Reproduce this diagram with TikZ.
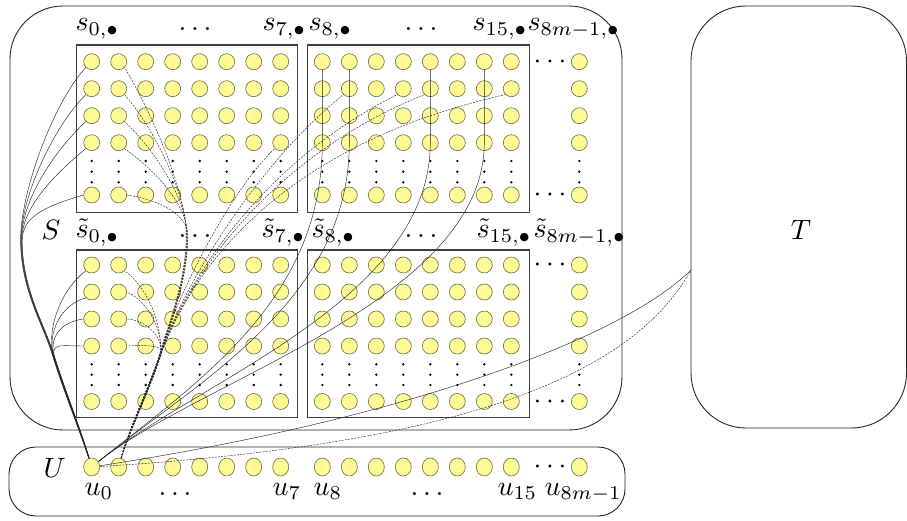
\documentclass[tikz,border=0pt]{standalone}
\usetikzlibrary{shapes.geometric}
\definecolor{cfill}{RGB}{255,250,150}
\definecolor{cdraw}{RGB}{110,105,60}
\begin{document}
\begin{tikzpicture}[x=1pt,y=-1pt,
  dotn/.style={circle,minimum size=16pt,inner sep=0pt,fill=cfill,draw=cdraw,line width=0.6pt},
  unode/.style={ellipse,minimum width=16pt,minimum height=18pt,inner sep=0pt,fill=cfill,draw=cdraw,line width=0.6pt},
  lab/.style={scale=2.8,inner sep=0pt},
  blk/.style={draw=black!75,line width=1.1pt},
  bigbox/.style={draw=black!85,line width=0.9pt},
  sl/.style={draw=black!85,line width=0.45pt},
  dl/.style={sl,dash pattern=on 2pt off 1.2pt},
]
\useasboundingbox (0,0) rectangle (907,521);

% outer boxes
\draw[bigbox,rounded corners=53pt] (10,6) rectangle (622,430);
\draw[bigbox,rounded corners=55pt] (691,6) rectangle (906.5,428);
\draw[bigbox,rounded corners=27pt] (9,447) rectangle (625,516);

% blocks
\draw[blk] (76.7,45) rectangle (297.7,212.7);
\draw[blk] (307.3,45) rectangle (529.3,212.7);
\draw[blk] (76.7,250) rectangle (297.7,417.3);
\draw[blk] (307.3,250) rectangle (529.3,417.3);

% circles
\foreach \c in {0,...,7}{
  \foreach \r in {0,...,3}{
    \node[dotn] (a-\r-\c) at ({91.7+27*\c},{61.7+27*\r}) {};
    \node[dotn] (b-\r-\c) at ({322.3+27*\c},{61.7+27*\r}) {};
    \node[dotn] (ta-\r-\c) at ({91.7+27*\c},{265+27*\r}) {};
    \node[dotn] (tb-\r-\c) at ({322.3+27*\c},{265+27*\r}) {};
  }
  \node[dotn] (a-4-\c) at ({91.7+27*\c},195) {};
  \node[dotn] (b-4-\c) at ({322.3+27*\c},195) {};
  \node[dotn] (ta-4-\c) at ({91.7+27*\c},401.5) {};
  \node[dotn] (tb-4-\c) at ({322.3+27*\c},401.5) {};
  \foreach \yy in {161,171.7,182.3,364.3,374.7,385}{
    \fill ({91.7+27*\c},\yy) circle (1.3pt);
    \fill ({322.3+27*\c},\yy) circle (1.3pt);
  }
}
\foreach \r in {0,...,3}{
  \node[dotn] (b-\r-8) at (579.3,{61.7+27*\r}) {};
  \node[dotn] (tb-\r-8) at (579.3,{265+27*\r}) {};
}
\node[dotn] (b-4-8) at (579.3,195) {};
\node[dotn] (tb-4-8) at (579.3,401.5) {};
\foreach \yy in {161,171.7,182.3,364.3,374.7,385}{
  \fill (579.3,\yy) circle (1.3pt);
}
\node[lab,anchor=base] (cd1) at (550,68.7) {$\cdots$};
\node[lab,anchor=base] (cd2) at (550,202) {$\cdots$};
\node[lab,anchor=base] (cd3) at (550,272) {$\cdots$};
\node[lab,anchor=base] (cd4) at (550,408.5) {$\cdots$};
\node[lab,anchor=base] (cd5) at (550,473) {$\cdots$};

% U row
\foreach \c in {0,...,7}{
  \node[unode] (u\c) at ({91.7+27*\c},467) {};
}
\foreach \c [evaluate=\c as \k using int(\c+8)] in {0,...,7}{
  \node[unode] (u\k) at ({322.3+27*\c},467) {};
}
\node[unode] (um) at (579.3,467) {};

% labels
\node[lab,anchor=base west] (ls0) at (75,31) {$s_{0,\bullet}$};
\node[lab,anchor=base] (ld1) at (195,31) {$\ldots$};
\node[lab,anchor=base west] (ls7) at (262,31) {$s_{7,\bullet}$};
\node[lab,anchor=base west] (ls8) at (308,31) {$s_{8,\bullet}$};
\node[lab,anchor=base] (ld2) at (421,31) {$\ldots$};
\node[lab,anchor=base west] (ls15) at (472,31) {$s_{15,\bullet}$};
\node[lab,anchor=base west] (lsm) at (527,31) {$s_{8m-1,\bullet}$};

\node[lab,anchor=base west] (lt0) at (75,238) {$\tilde{s}_{0,\bullet}$};
\node[lab,anchor=base] (ld3) at (195,238) {$\ldots$};
\node[lab,anchor=base west] (lt7) at (261,238) {$\tilde{s}_{7,\bullet}$};
\node[lab,anchor=base west] (lt8) at (311,238) {$\tilde{s}_{8,\bullet}$};
\node[lab,anchor=base] (ld4) at (421,238) {$\ldots$};
\node[lab,anchor=base west] (lt15) at (476,238) {$\tilde{s}_{15,\bullet}$};
\node[lab,anchor=base west] (ltm) at (533,238) {$\tilde{s}_{8m-1,\bullet}$};

\node[lab,anchor=base west] (lS) at (41,240) {$S$};
\node[lab,anchor=base] (lT) at (801,240) {$T$};
\node[lab,anchor=base west] (lU) at (43,477) {$U$};

\node[lab,anchor=base west] (lu0) at (84,495) {$u_0$};
\node[lab,anchor=base] (ld5) at (175,495) {$\ldots$};
\node[lab,anchor=base west] (lu7) at (272,495) {$u_7$};
\node[lab,anchor=base west] (lu8) at (313,495) {$u_8$};
\node[lab,anchor=base] (ld6) at (427,495) {$\ldots$};
\node[lab,anchor=base west] (lu15) at (497,495) {$u_{15}$};
\node[lab,anchor=base west] (lum) at (544,495) {$u_{8m-1}$};

\coordinate (Tin) at (691,270);

% ---- u0 : solid ----
\draw[sl] (u0) .. controls (79.4,430) and (61.4,385) .. (52.4,355) .. controls (43.4,325) and (20.6,290) .. (20.6,240) .. controls (20.6,190) and (55,100) .. (a-0-0.south west);
\draw[sl] (u0) .. controls (79.8,430) and (61.8,385) .. (52.8,355) .. controls (43.8,325) and (21,290) .. (21,240) .. controls (21,195) and (55,125) .. (a-1-0.south west);
\draw[sl] (u0) .. controls (80.2,430) and (62.2,385) .. (53.2,355) .. controls (44.2,325) and (21.4,290) .. (21.4,240) .. controls (21.4,200) and (55,150) .. (a-2-0.south west);
\draw[sl] (u0) .. controls (80.6,430) and (62.6,385) .. (53.6,355) .. controls (44.6,325) and (21.8,290) .. (21.8,240) .. controls (21.8,205) and (60,170) .. (a-3-0.south west);
\draw[sl] (u0) .. controls (81,430) and (63,385) .. (54,355) .. controls (45,325) and (22.2,290) .. (22.2,240) .. controls (22.2,215) and (50,205) .. (a-4-0.west);

\draw[sl] (u0) .. controls (79.8,430) and (61.8,385) .. (52.8,355) .. controls (47,330) and (60,290) .. (ta-0-0.south west);
\draw[sl] (u0) .. controls (80.2,430) and (62.2,385) .. (53.2,355) .. controls (48,333) and (60,305) .. (ta-1-0.south west);
\draw[sl] (u0) .. controls (80.6,430) and (62.6,385) .. (53.6,355) .. controls (50,335) and (62,322) .. (ta-2-0.west);
\draw[sl] (u0) .. controls (81,430) and (63,385) .. (54,355) .. controls (52,343) and (62,346) .. (ta-3-0.west);

\foreach \c in {0,1,4,6}{
  \draw[sl] (u0) .. controls (200,380) and ([yshift=-157pt]b-3-\c.center) .. (b-3-\c.center) -- (b-0-\c.south);
}

\draw[sl] (u0) .. controls (400,420) and (620,340) .. (Tin);
\draw[dl] (u0) .. controls (450,445) and (630,380) .. (Tin);

% ---- u1 : dashed ----
\draw[dl] (u1) .. controls (128.2,430) and (150.2,385) .. (160.2,352) .. controls (170.2,319) and (186.2,280) .. (186.2,235) .. controls (186.2,190) and (150,110) .. (a-0-1.south east);
\draw[dl] (u1) .. controls (128.6,430) and (150.6,385) .. (160.6,352) .. controls (170.6,319) and (186.6,280) .. (186.6,235) .. controls (186.6,195) and (155,130) .. (a-1-1.south east);
\draw[dl] (u1) .. controls (129,430) and (151,385) .. (161,352) .. controls (171,319) and (187,280) .. (187,235) .. controls (187,200) and (155,150) .. (a-2-1.south east);
\draw[dl] (u1) .. controls (129.4,430) and (151.4,385) .. (161.4,352) .. controls (171.4,319) and (187.4,280) .. (187.4,235) .. controls (187.4,205) and (155,170) .. (a-3-1.south east);
\draw[dl] (u1) .. controls (129.8,430) and (151.8,385) .. (161.8,352) .. controls (171.8,319) and (187.8,280) .. (187.8,235) .. controls (187.8,215) and (160,200) .. (a-4-1.east);

\draw[dl] (u1) .. controls (128.4,430) and (150.4,385) .. (160.4,352) .. controls (175,300) and (230,190) .. (a-3-7.south west);
\draw[dl] (u1) .. controls (128.8,430) and (150.8,385) .. (160.8,352) .. controls (180,295) and (250,170) .. (b-1-1.south west);
\draw[dl] (u1) .. controls (129.2,430) and (151.2,385) .. (161.2,352) .. controls (182,292) and (255,165) .. (b-1-3.south west);
\draw[dl] (u1) .. controls (129.6,430) and (151.6,385) .. (161.6,352) .. controls (184,290) and (258,162) .. (b-1-4.south west);
\draw[dl] (u1) .. controls (130,430) and (152,385) .. (162,352) .. controls (185,290) and (260,150) .. (b-1-7.south west);

\draw[dl] (u1) .. controls (128.4,430) and (150.4,385) .. (160.4,352) .. controls (162,320) and (145,285) .. (ta-0-1.south east);
\draw[dl] (u1) .. controls (128.8,430) and (150.8,385) .. (160.8,352) .. controls (162,325) and (145,300) .. (ta-1-1.east);
\draw[dl] (u1) .. controls (129.2,430) and (151.2,385) .. (161.2,352) .. controls (162,335) and (145,320) .. (ta-2-1.east);
\draw[dl] (u1) .. controls (129.6,430) and (151.6,385) .. (161.6,352) .. controls (161,345) and (145,345) .. (ta-3-1.east);
\end{tikzpicture}
\end{document}
